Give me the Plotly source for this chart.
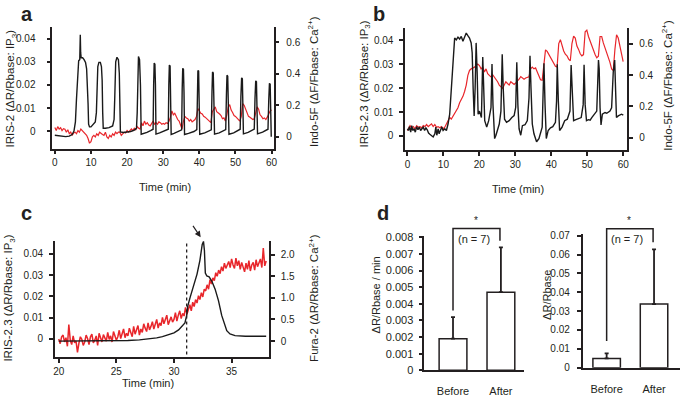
import numpy as np
import plotly.graph_objects as go

W, H = 685, 397
FONT = "Liberation Sans, Arial, sans-serif"
TXT = "#231f20"
RED = "#e8262b"
BLK = "#1a1a1a"

# ---------------- data ----------------
# Panel a: IRIS-2 (black, left axis) and Indo-5F (red, right axis)
a_black_t = [0, 1, 2, 3, 4, 4.8, 5.3, 5.7, 6.0, 6.3, 6.6, 6.9, 7.05, 7.15, 7.3, 7.7, 8.1, 8.5, 8.8, 9.0,
             9.2, 9.35, 9.6, 10.0, 10.4, 10.8, 11.2, 11.5, 11.7, 11.9, 12.2, 12.6, 12.9, 13.1, 13.25, 13.4,
             14, 15, 16, 16.4, 16.6, 16.85, 17.2, 17.6, 17.85, 18.0, 18.15, 19, 20, 21, 22, 22.6, 22.8,
             22.95, 23.15, 23.45, 23.7, 23.9, 24.5, 25.5, 26.5, 27.2, 27.35, 27.5, 27.7, 27.85, 28.0, 29,
             30, 31.4, 31.55, 31.7, 31.9, 32.05, 32.2, 33, 34, 35.1, 35.25, 35.4, 35.6, 35.75, 35.9, 37,
             38.5, 39.3, 39.45, 39.6, 39.8, 39.95, 40.1, 41.5, 43.3, 43.5, 43.65, 43.85, 44.0, 44.2, 45.5,
             47.3, 47.5, 47.65, 47.85, 48.0, 48.2, 49.5, 51.3, 51.5, 51.7, 51.9, 52.05, 52.2, 53.5, 55.2,
             55.4, 55.6, 55.8, 55.95, 56.1, 57.5, 59.0, 59.2, 59.4, 59.6, 59.75, 59.9]
a_black_v = [-0.0018, -0.002, -0.0022, -0.0024, -0.0022, -0.0015, 0.0, 0.004, 0.014, 0.025, 0.0305, 0.031,
             0.0418, 0.034, 0.0318, 0.0318, 0.031, 0.0298, 0.027, 0.022, 0.012, 0.003, 0.0018, 0.0018,
             0.0025, 0.003, 0.004, 0.008, 0.02, 0.028, 0.0298, 0.0298, 0.028, 0.022, 0.008, 0.0012,
             0.0012, 0.0015, 0.0022, 0.005, 0.015, 0.03, 0.032, 0.031, 0.025, 0.01, -0.0004, -0.0006,
             -0.0005, -0.0002, 0.0004, 0.0012, 0.008, 0.027, 0.0323, 0.031, 0.02, -0.0014, -0.0012,
             -0.0006, 0.0002, 0.0008, 0.02, 0.0295, 0.029, 0.02, -0.0013, -0.0008, -0.0002, 0.0008, 0.02,
             0.0286, 0.0282, 0.018, -0.0015, -0.001, -0.0004, 0.0005, 0.018, 0.0272, 0.0268, 0.017,
             -0.0015, -0.001, -0.0002, 0.0006, 0.018, 0.0263, 0.026, 0.016, -0.0014, -0.0008, 0.0005,
             0.017, 0.0256, 0.0252, 0.015, -0.0013, -0.0008, 0.0006, 0.016, 0.0242, 0.0238, 0.014,
             -0.0014, -0.0008, 0.0008, 0.015, 0.0231, 0.0227, 0.013, -0.0012, -0.0006, 0.0009, 0.014,
             0.0218, 0.0214, 0.012, -0.0012, -0.0005, 0.0008, 0.013, 0.0207, 0.0203, 0.01, -0.0025]
a_red_step = 0.4
a_red_v = [0.06, 0.04, 0.065, 0.05, 0.058, 0.04, 0.052, 0.048, 0.03, 0.045,
           0.02, 0.03, 0.01, 0.025, 0.03, 0.02, 0.04, 0.03, 0.05, 0.04,
           0.025, 0.015, 0.01, -0.01, -0.04, -0.03, 0.0, 0.01, 0.0, 0.02,
           0.01, 0.03, 0.02, 0.015, 0.01, 0.03, 0.0, -0.01, 0.01, 0.0,
           0.02, 0.01, 0.03, 0.02, 0.03, 0.03, 0.01, 0.02, 0.03, 0.025,
           0.04, 0.03, 0.04, 0.05, 0.04, 0.055, 0.045, 0.065, 0.055, 0.05,
           0.09, 0.07, 0.1, 0.08, 0.09, 0.075, 0.07, 0.085, 0.1, 0.08,
           0.09, 0.08, 0.095, 0.09, 0.08, 0.085, 0.08, 0.09, 0.085, 0.1,
           0.125, 0.165, 0.14, 0.15, 0.125, 0.11, 0.1, 0.075, 0.05, 0.1,
           0.13, 0.12, 0.115, 0.1, 0.11, 0.095, 0.1, 0.11, 0.13, 0.18,
           0.165, 0.15, 0.145, 0.13, 0.125, 0.115, 0.105, 0.1, 0.09, 0.16,
           0.18, 0.19, 0.16, 0.155, 0.145, 0.135, 0.115, 0.12, 0.1, 0.14,
           0.19, 0.205, 0.17, 0.155, 0.135, 0.13, 0.12, 0.115, 0.1, 0.13,
           0.21, 0.2, 0.18, 0.15, 0.13, 0.125, 0.12, 0.11, 0.115, 0.15,
           0.19, 0.175, 0.14, 0.13, 0.115, 0.12, 0.11, 0.125, 0.15, 0.165,
           0.17]

# Panel b: IRIS-2.3 (black, left) and Indo-5F (red, right)
b_black_t = [0.0, 0.28, 0.55, 0.92, 1.19, 1.47, 1.84, 2.2, 2.57, 2.94, 3.31, 3.67, 4.04, 4.41, 4.78, 5.14,
             5.51, 5.88, 6.24, 6.7, 7.16, 7.62, 7.9, 8.17, 8.54, 8.82, 9.18, 9.55, 9.92, 10.38, 10.84,
             11.29, 11.75, 12.21, 12.67, 13.13, 13.59, 14.05, 14.51, 14.97, 15.43, 15.89, 16.35, 16.8,
             17.26, 17.72, 18.0, 18.27, 18.55, 18.82, 19.1, 19.38, 19.65, 20.02, 20.57, 20.94, 21.21,
             21.49, 22.04, 22.59, 23.23, 23.51, 23.78, 24.24, 24.61, 25.07, 25.53, 25.99, 26.35, 26.63,
             27.0, 27.55, 28.28, 29.02, 29.66, 30.1, 30.4, 30.7, 31.04, 31.5, 31.96, 32.69, 33.33, 33.79,
             34.07, 34.35, 34.71, 35.17, 35.63, 35.9, 36.55, 37.0, 37.46, 37.75, 37.95, 38.25, 38.6,
             39.12, 39.76, 40.4, 41.14, 41.45, 41.65, 41.95, 42.3, 42.98, 43.71, 44.44, 45.18, 45.5,
             45.82, 46.19, 46.83, 47.57, 48.3, 48.85, 49.1, 49.4, 49.77, 50.32, 50.78, 51.24, 51.97,
             52.62, 53.1, 53.3, 53.54, 53.81, 54.18, 54.91, 55.4, 56.29, 56.75, 57.21, 57.6, 57.85, 58.1,
             58.59, 59.05, 59.5, 60.0]
b_black_v = [0.003, 0.0023, 0.0039, 0.0016, 0.0043, 0.0023, 0.003, 0.0016, 0.0039, 0.0026, 0.0037, 0.0023,
             0.003, 0.0037, 0.0023, 0.0034, 0.0026, 0.0012, 0.0007, 0.0003, -0.0004, 0.0009, 0.0037, 0.0003,
             0.003, 0.0009, 0.0023, 0.0037, 0.0023, 0.003, 0.0023, 0.005, 0.0091, 0.0199, 0.0348, 0.0409,
             0.0402, 0.0413, 0.0405, 0.0416, 0.0396, 0.0416, 0.043, 0.0419, 0.0409, 0.0389, 0.0348, 0.0199,
             0.0084, 0.0199, 0.0389, 0.0267, 0.0091, 0.0104, 0.0077, 0.033, 0.0131, 0.0064, 0.0037, 0.0064,
             0.0118, 0.0301, 0.0131, -0.0011, 0.0003, 0.0023, 0.005, 0.0104, 0.0341, 0.0199, 0.007, 0.0057,
             0.0064, 0.0077, 0.0085, 0.012, 0.0308, 0.0131, 0.003, 0.0003, 0.0043, 0.0047, 0.0064, 0.0159,
             0.0335, 0.0199, 0.005, 0.0009, -0.0018, -0.0024, -0.0011, 0.0009, 0.0037, 0.0199, 0.0304,
             0.0131, -0.0011, 0.0023, 0.0034, 0.0039, 0.0057, 0.0145, 0.03, 0.0145, 0.0023, 0.0037, 0.0064,
             0.007, 0.0104, 0.0297, 0.0145, 0.0064, 0.0068, 0.0071, 0.0077, 0.0131, 0.0298, 0.0131, 0.0064,
             0.0068, 0.0066, 0.0077, 0.0091, 0.0104, 0.0317, 0.028, 0.0118, 0.0046, 0.0091, 0.0098, 0.0095,
             0.0104, 0.0118, 0.0267, 0.0317, 0.0131, 0.0077, 0.0084, 0.0088, 0.0091, 0.0087]
b_red_t = [0.0, 0.73, 1.19, 1.65, 2.11, 2.57, 3.03, 3.49, 3.95, 4.41, 4.87, 5.33, 5.79, 6.24, 6.7, 7.16, 7.62,
           8.08, 8.54, 9.0, 9.46, 9.92, 10.38, 10.84, 11.29, 11.75, 12.21, 12.67, 13.13, 13.59, 14.05,
           14.51, 14.97, 15.43, 15.89, 16.35, 16.8, 17.26, 17.72, 18.18, 18.64, 19.1, 19.56, 20.02, 20.48,
           20.94, 21.4, 21.85, 22.31, 22.77, 23.23, 23.69, 24.15, 24.61, 25.07, 25.53, 25.99, 26.45, 26.91,
           27.36, 27.82, 28.28, 28.74, 29.2, 29.66, 30.12, 30.58, 31.04, 31.5, 31.96, 32.41, 32.87, 33.33,
           33.79, 34.25, 34.71, 35.17, 35.63, 36.09, 36.55, 37.0, 37.46, 37.92, 38.38, 38.84, 39.3, 39.76,
           40.22, 40.68, 41.14, 41.6, 42.06, 42.52, 42.98, 43.43, 43.89, 44.35, 44.81, 45.27, 45.73, 46.19,
           46.65, 47.11, 47.57, 48.03, 48.48, 48.94, 49.4, 49.86, 50.32, 50.78, 51.24, 51.7, 52.16, 52.62,
           53.08, 53.54, 54.0, 54.45, 54.91, 55.37, 55.83, 56.29, 56.75, 57.21, 57.67, 58.13, 58.59, 59.05,
           59.5, 59.96]
b_red_v = [0.047, 0.078, 0.064, 0.072, 0.058, 0.078, 0.068, 0.072, 0.064, 0.078, 0.072, 0.085, 0.072, 0.078,
           0.089, 0.072, 0.085, 0.068, 0.072, 0.064, 0.072, 0.058, 0.068, 0.089, 0.109, 0.13, 0.12, 0.14,
           0.15, 0.171, 0.192, 0.223, 0.243, 0.264, 0.295, 0.336, 0.398, 0.429, 0.439, 0.443, 0.45, 0.46,
           0.47, 0.46, 0.439, 0.45, 0.419, 0.439, 0.408, 0.398, 0.388, 0.402, 0.388, 0.367, 0.357, 0.336,
           0.326, 0.315, 0.336, 0.357, 0.346, 0.336, 0.357, 0.345, 0.34, 0.35, 0.361, 0.373, 0.39, 0.38,
           0.373, 0.381, 0.385, 0.388, 0.44, 0.45, 0.439, 0.445, 0.419, 0.395, 0.37, 0.367, 0.45, 0.56,
           0.55, 0.53, 0.515, 0.5, 0.48, 0.455, 0.45, 0.6, 0.625, 0.584, 0.553, 0.532, 0.522, 0.501, 0.491,
           0.6, 0.648, 0.635, 0.584, 0.563, 0.535, 0.522, 0.53, 0.675, 0.685, 0.645, 0.614, 0.584, 0.563,
           0.53, 0.51, 0.52, 0.645, 0.645, 0.604, 0.573, 0.553, 0.522, 0.48, 0.439, 0.429, 0.563, 0.656,
           0.635, 0.584, 0.522, 0.485]

# Panel c: IRIS-2.3 (black, left) and Fura-2 (red, right)
c_black_t = [20, 22, 24, 25, 26, 27, 28, 28.5, 29, 29.5, 30, 30.4, 30.7, 30.95, 31.1, 31.2, 31.4, 31.7,
             32.0, 32.25, 32.45, 32.56, 32.64, 32.72, 32.85, 33.05, 33.28, 33.57, 33.86, 34.14, 34.37,
             34.58, 34.86, 35.3, 36.2, 38.0]
c_black_v = [-0.0011, -0.0011, -0.001, -0.001, -0.0008, -0.0005, 0.0, 0.0004, 0.001, 0.0018, 0.0028,
             0.0042, 0.0058, 0.0075, 0.011, 0.0155, 0.0195, 0.025, 0.0305, 0.037, 0.0445, 0.0459, 0.0417,
             0.031, 0.0296, 0.0292, 0.0272, 0.0234, 0.018, 0.011, 0.0066, 0.0038, 0.0023, 0.0015, 0.0012,
             0.0012]
c_red_t0 = 20.0
c_red_step = 0.125
c_red_v = [0.05, -0.06, 0.1, 0.14, -0.02, 0.08, -0.12, 0.38, 0.02, -0.08, 0.12, -0.04, 0.0, -0.26, -0.05, 0.1,
           0.04, -0.1, -0.02, 0.14, 0.06, -0.08, 0.1, 0.16, -0.04, 0.02, 0.12, -0.1, 0.18, 0.06, -0.02, 0.15,
           0.08, 0.0, 0.2, 0.04, 0.12, -0.02, 0.22, 0.14, 0.02, 0.1, 0.25, 0.06, 0.16, 0.28, 0.08, 0.18,
           0.12, 0.3, 0.2, 0.1, 0.34, 0.16, 0.26, 0.36, 0.14, 0.28, 0.2, 0.4, 0.3, 0.22, 0.42, 0.26,
           0.34, 0.45, 0.28, 0.4, 0.5, 0.3, 0.42, 0.36, 0.55, 0.4, 0.48, 0.6, 0.38, 0.5, 0.56, 0.44,
           0.5, 0.66, 0.46, 0.6, 0.7, 0.52, 0.64, 0.58, 0.78, 0.62, 0.74, 0.84, 0.7, 0.9, 0.8, 0.96,
           0.88, 1.05, 0.96, 1.12, 1.02, 1.2, 1.16, 1.3, 1.2, 1.42, 1.32, 1.46, 1.4, 1.58, 1.5, 1.64,
           1.56, 1.72, 1.62, 1.8, 1.68, 1.76, 1.84, 1.7, 1.9, 1.76, 1.68, 1.92, 1.74, 1.86, 1.66, 1.82,
           1.7, 1.6, 1.8, 1.66, 1.86, 1.62, 1.76, 1.82, 1.64, 1.88, 1.72, 1.8, 1.9, 1.7, 2.15, 1.74,
           1.85]
c_marker_time = 31.1

# Panel d: bar charts
d_categories = ["Before", "After"]
d_rate_mean = [0.0019, 0.0047]
d_rate_err = [0.0013, 0.0027]
d_amp_mean = [0.0049, 0.0337]
d_amp_err = [0.0027, 0.0290]

a_xticks = [0, 10, 20, 30, 40, 50, 60]
c_xticks = [20, 25, 30, 35]
ip3_ticks = [0, 0.01, 0.02, 0.03, 0.04]
ip3_labels = ["0", "0.01", "0.02", "0.03", "0.04"]
indo_ticks = [0, 0.2, 0.4, 0.6]
indo_labels = ["0", "0.2", "0.4", "0.6"]
fura_ticks = [0, 0.5, 1.0, 1.5, 2.0]
fura_labels = ["0", "0.5", "1.0", "1.5", "2.0"]
rate_ticks = [0, 0.001, 0.002, 0.003, 0.004, 0.005, 0.006, 0.007, 0.008]
rate_labels = ["0", "0.001", "0.002", "0.003", "0.004", "0.005", "0.006", "0.007", "0.008"]
amp_ticks = [0, 0.01, 0.02, 0.03, 0.04, 0.05, 0.06, 0.07]
amp_labels = ["0", "0.01", "0.02", "0.03", "0.04", "0.05", "0.06", "0.07"]

# ---------------- layout geometry (pixels) ----------------
def fx(p):
    return p / W


def fy(p):
    return 1 - p / H


# (left, right, bottom, top) pixel boxes
box_a = (50.7, 274.0, 148.7, 24.0)
box_b = (406.7, 631.0, 150.0, 25.0)
box_c = (53.3, 269.3, 363.3, 243.3)
box_d1 = (426.0, 527.0, 376.7, 238.3)
box_d2 = (585.7, 684.0, 374.0, 236.7)

rng_a_x = [-0.71, 60.55]
rng_a_l = [-0.0076, 0.0450]
rng_a_r = [-0.074, 0.694]
rng_b_x = [-0.63, 61.16]
rng_b_l = [-0.0058, 0.0450]
rng_b_r = [-0.076, 0.697]
rng_c_x = [19.66, 38.24]
rng_c_l = [-0.0087, 0.0463]
rng_c_r = [-0.373, 2.324]
rng_d1_x = [-0.6, 1.49]
rng_d1_y = [0, 0.0081]
rng_d2_x = [-0.508, 1.548]
rng_d2_y = [0, 0.0708]


def dom_x(b):
    return [fx(b[0]), fx(b[1])]


def dom_y(b):
    return [fy(b[2]), fy(b[3])]


def data_px_x(v, b, r):
    return b[0] + (v - r[0]) / (r[1] - r[0]) * (b[1] - b[0])


def data_px_y(v, b, r):
    return b[2] + (v - r[0]) / (r[1] - r[0]) * (b[3] - b[2])


def ax(**kw):
    d = dict(showline=True, linecolor=TXT, linewidth=1.5, ticks="outside", ticklen=4, tickwidth=1.5,
             tickcolor=TXT, showgrid=False, zeroline=False, fixedrange=True,
             tickfont=dict(family=FONT, size=10, color=TXT))
    d.update(kw)
    return d


fig = go.Figure()

# panel a
fig.add_trace(go.Scatter(x=[round(i * a_red_step, 2) for i in range(len(a_red_v))], y=a_red_v,
                         xaxis="x", yaxis="y", mode="lines", line=dict(color=RED, width=1.2)))
fig.add_trace(go.Scatter(x=a_black_t, y=a_black_v, xaxis="x", yaxis="y2", mode="lines",
                         line=dict(color=BLK, width=1.4)))
# panel b
fig.add_trace(go.Scatter(x=b_red_t, y=b_red_v, xaxis="x2", yaxis="y3", mode="lines",
                         line=dict(color=RED, width=1.2)))
fig.add_trace(go.Scatter(x=b_black_t, y=b_black_v, xaxis="x2", yaxis="y4", mode="lines",
                         line=dict(color=BLK, width=1.4)))
# panel c
fig.add_trace(go.Scatter(x=[round(c_red_t0 + i * c_red_step, 4) for i in range(len(c_red_v))], y=c_red_v,
                         xaxis="x3", yaxis="y5", mode="lines", line=dict(color=RED, width=1.5)))
fig.add_trace(go.Scatter(x=c_black_t, y=c_black_v, xaxis="x3", yaxis="y6", mode="lines",
                         line=dict(color=BLK, width=1.4)))
# panel d
for xa, ya, mean, err in [("x4", "y7", d_rate_mean, d_rate_err), ("x5", "y8", d_amp_mean, d_amp_err)]:
    fig.add_trace(go.Bar(x=d_categories, y=mean, xaxis=xa, yaxis=ya, width=0.58,
                         marker=dict(color="white", line=dict(color=TXT, width=1.5)),
                         error_y=dict(type="data", array=err, arrayminus=[0, 0], symmetric=False,
                                      color=TXT, thickness=1.8, width=2)))

layout = dict(
    width=W, height=H, autosize=False, showlegend=False,
    margin=dict(l=0, r=0, t=0, b=0), paper_bgcolor="white", plot_bgcolor="white",
    font=dict(family=FONT, color=TXT),
    xaxis=ax(domain=dom_x(box_a), range=rng_a_x, anchor="y", tickvals=a_xticks),
    yaxis=ax(domain=dom_y(box_a), range=rng_a_r, anchor="x", side="right", tickvals=indo_ticks,
             ticktext=indo_labels, ticklabelstandoff=5),
    yaxis2=ax(range=rng_a_l, anchor="x", overlaying="y", side="left", tickvals=ip3_ticks,
              ticktext=ip3_labels, ticklabelstandoff=9),
    xaxis2=ax(domain=dom_x(box_b), range=rng_b_x, anchor="y3", tickvals=a_xticks),
    yaxis3=ax(domain=dom_y(box_b), range=rng_b_r, anchor="x2", side="right", tickvals=indo_ticks,
              ticktext=indo_labels, ticklabelstandoff=4),
    yaxis4=ax(range=rng_b_l, anchor="x2", overlaying="y3", side="left", tickvals=ip3_ticks,
              ticktext=ip3_labels, ticklabelstandoff=4),
    xaxis3=ax(domain=dom_x(box_c), range=rng_c_x, anchor="y5", tickvals=c_xticks),
    yaxis5=ax(domain=dom_y(box_c), range=rng_c_r, anchor="x3", side="right", tickvals=fura_ticks,
              ticktext=fura_labels, ticklabelstandoff=4),
    yaxis6=ax(range=rng_c_l, anchor="x3", overlaying="y5", side="left", tickvals=ip3_ticks,
              ticktext=ip3_labels, ticklabelstandoff=4),
    xaxis4=ax(domain=dom_x(box_d1), range=rng_d1_x, anchor="y7", type="category", ticks="", ticklen=0,
              tickfont=dict(family=FONT, size=11, color=TXT), ticklabelstandoff=10),
    yaxis7=ax(domain=dom_y(box_d1), range=rng_d1_y, anchor="x4", tickvals=rate_ticks, ticktext=rate_labels,
              tickfont=dict(family=FONT, size=11, color=TXT), ticklabelstandoff=3),
    xaxis5=ax(domain=dom_x(box_d2), range=rng_d2_x, anchor="y8", type="category", ticks="", ticklen=0,
              tickfont=dict(family=FONT, size=11, color=TXT), ticklabelstandoff=10),
    yaxis8=ax(domain=dom_y(box_d2), range=rng_d2_y, anchor="x5", tickvals=amp_ticks, ticktext=amp_labels,
              tickfont=dict(family=FONT, size=10, color=TXT), ticklabelstandoff=5),
)

ann = []
shapes = []


def text(xp, yp, s, size=11, angle=0, bold=False, xanchor="center"):
    ann.append(dict(x=fx(xp), y=fy(yp), xref="paper", yref="paper", text=("<b>%s</b>" % s) if bold else s,
                    showarrow=False, textangle=angle, xanchor=xanchor, yanchor="middle",
                    font=dict(family=FONT, size=size, color=TXT)))


# panel letters
text(17, 10, "a", size=20, bold=True, xanchor="left")
text(372, 10, "b", size=20, bold=True, xanchor="left")
text(17, 215, "c", size=20, bold=True, xanchor="left")
text(376, 215, "d", size=20, bold=True, xanchor="left")

# axis titles
text(9, 87, "IRIS-2 (ΔR/Rbase: IP<sub>3</sub>)", size=11.5, angle=-90)
text(314, 80, "Indo-5F (ΔF/Fbase: Ca<sup>2+</sup>)", size=11.5, angle=-90)
text(164, 188, "Time (min)", size=11)
text(366, 82, "IRIS-2.3 (ΔR/Rbase: IP<sub>3</sub>)", size=11.5, angle=-90)
text(671, 84, "Indo-5F (ΔF/Fbase: Ca<sup>2+</sup>)", size=11.5, angle=-90)
text(521, 190, "Time (min)", size=11)
text(7, 302, "IRIS-2.3 (ΔR/Rbase: IP<sub>3</sub>)", size=11.5, angle=-90)
text(314, 302, "Fura-2 (ΔR/Rbase: Ca<sup>2+</sup>)", size=11.5, angle=-90)
text(147, 390, "Time (min)", size=11)
text(377, 299, "ΔR/Rbase / min", size=11, angle=-90)
text(550, 299, "ΔR/Rbase", size=11, angle=-90)

# dotted line in c
xm = data_px_x(c_marker_time, box_c, rng_c_x)
shapes.append(dict(type="line", xref="paper", yref="paper", x0=fx(xm), x1=fx(xm), y0=fy(360.5), y1=fy(244),
                   line=dict(color=TXT, width=1.3, dash="dot")))

# arrow in c pointing at the IP3 peak
pk = int(np.argmax(c_black_v))
ann.append(dict(x=c_black_t[pk], y=c_black_v[pk], xref="x3", yref="y6", showarrow=True, ax=-11.5, ay=-17,
                arrowhead=2, arrowsize=1, arrowwidth=1.2, arrowcolor=TXT, standoff=5, text=""))

# significance brackets in d
for b, rx, ry, left_low, top, right_low, lab_x in [
    (box_d1, rng_d1_x, rng_d1_y, 0.0036, 0.00853, 0.0078, 0.44),
    (box_d2, rng_d2_x, rng_d2_y, 0.0141, 0.0737, 0.0665, 0.44),
]:
    x0 = data_px_x(0, b, rx)
    x1 = data_px_x(0.98, b, rx)
    yl = data_px_y(left_low, b, ry)
    yt = data_px_y(top, b, ry)
    yr = data_px_y(right_low, b, ry)
    shapes.append(dict(type="path", xref="paper", yref="paper",
                       path="M %f %f L %f %f L %f %f L %f %f" % (fx(x0), fy(yl), fx(x0), fy(yt), fx(x1), fy(yt),
                                                                fx(x1), fy(yr)),
                       line=dict(color=TXT, width=1.5)))
    xc = data_px_x(lab_x, b, rx)
    text(xc + 1.5, yt - 8, "*", size=10)
    text(xc, yt + 11, "(n = 7)", size=11)

layout["annotations"] = ann
layout["shapes"] = shapes
fig.update_layout(**layout)
fig.write_html("out.html", config={"displayModeBar": False},
               post_script="document.body.style.margin='0';document.body.style.overflow='hidden';")
